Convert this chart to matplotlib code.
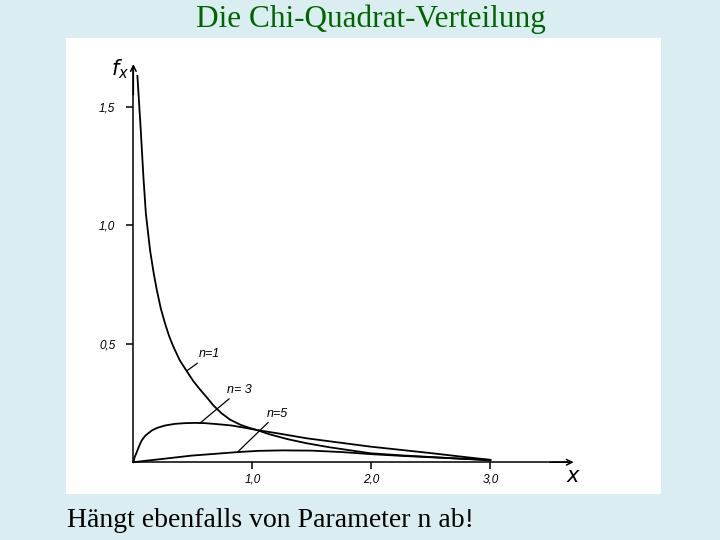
import matplotlib
matplotlib.use("Agg")
import matplotlib.pyplot as plt

plt.rcParams["mathtext.fontset"] = "dejavusans"

# curves
n1_x = [0.034, 0.06, 0.085, 0.105, 0.14, 0.17, 0.197, 0.23, 0.266, 0.30, 0.336, 0.39, 0.448, 0.50,
        0.56, 0.62, 0.672, 0.74, 0.812, 0.90, 0.97, 1.037, 1.15, 1.30, 1.457, 1.65, 1.99, 2.25,
        2.5, 2.75, 3.0]
n1_y = [1.63, 1.42, 1.20, 1.05, 0.896, 0.80, 0.727, 0.65, 0.586, 0.533, 0.488, 0.43, 0.385, 0.345,
        0.307, 0.272, 0.24, 0.207, 0.18, 0.158, 0.146, 0.136, 0.117, 0.097, 0.080, 0.063, 0.038, 0.029,
        0.022, 0.015, 0.008]

n3_x = [0.0, 0.01, 0.028, 0.05, 0.07, 0.1, 0.155, 0.2, 0.266, 0.35, 0.434, 0.52, 0.6, 0.7, 0.826,
        0.93, 1.037, 1.2, 1.457, 1.7, 1.99, 2.25, 2.51, 2.75, 3.0]
n3_y = [0.0, 0.02, 0.042, 0.07, 0.092, 0.112, 0.134, 0.145, 0.155, 0.162, 0.165, 0.166, 0.165, 0.161,
        0.155, 0.146, 0.136, 0.123, 0.101, 0.085, 0.066, 0.052, 0.038, 0.024, 0.010]

n5_x = [0.0, 0.1, 0.21, 0.35, 0.49, 0.7, 0.88, 1.05, 1.25, 1.5, 1.75, 2.0, 2.25, 2.5, 2.75, 3.0]
n5_y = [0.0, 0.006, 0.012, 0.02, 0.028, 0.036, 0.043, 0.048, 0.05, 0.049, 0.043, 0.034, 0.027,
        0.021, 0.015, 0.010]

curve_labels = ["n=1", "n= 3", "n=5"]
x_ticks = [1.0, 2.0, 3.0]
x_ticklabels = ["1,0", "2,0", "3,0"]
y_ticks = [0.5, 1.0, 1.5]
y_ticklabels = ["0,5", "1,0", "1,5"]

title = "Die Chi-Quadrat-Verteilung"
caption = "Hängt ebenfalls von Parameter n ab!"

fig = plt.figure(figsize=(7.2, 5.4), dpi=100)
fig.patch.set_facecolor("#daedf0")

fig.text(0.515, 0.964, title, ha="center", va="center", family="Liberation Serif",
         fontsize=22.5, color="#006400")
fig.text(0.093, 0.037, caption, ha="left", va="center", family="Liberation Serif",
         fontsize=20, color="black")

# white panel = the axes itself
ax = fig.add_axes([66 / 720, 46 / 540, 595 / 720, 456 / 540])
ax.set_facecolor("white")
ax.set_xlim(-0.566, 4.434)
ax.set_ylim(-0.134, 1.79)

ax.spines["top"].set_visible(False)
ax.spines["right"].set_visible(False)
ax.spines["left"].set_position(("data", 0))
ax.spines["bottom"].set_position(("data", 0))
ax.spines["left"].set_bounds(0, 1.66)
ax.spines["bottom"].set_bounds(0, 3.68)
ax.spines["left"].set_linewidth(1.1)
ax.spines["bottom"].set_linewidth(1.1)

# arrow heads
ax.annotate("", xy=(3.70, 0), xytext=(3.5, 0),
            arrowprops=dict(arrowstyle="->", lw=1.1, color="black", shrinkA=0, shrinkB=0))
ax.annotate("", xy=(0, 1.68), xytext=(0, 1.55),
            arrowprops=dict(arrowstyle="->", lw=1.1, color="black", shrinkA=0, shrinkB=0))

tick_font = dict(family="Liberation Sans", style="italic", size=8.5)
ax.set_xticks(x_ticks)
ax.set_xticklabels(x_ticklabels, fontdict=tick_font)
ax.set_yticks(y_ticks)
ax.set_yticklabels(y_ticklabels, fontdict=tick_font)
ax.tick_params(axis="x", direction="out", length=5, width=1.1, pad=3)
ax.tick_params(axis="y", direction="out", length=5, width=1.1, pad=8)

ax.plot(n1_x, n1_y, color="black", lw=1.3)
ax.plot(n3_x, n3_y, color="black", lw=1.3)
ax.plot(n5_x, n5_y, color="black", lw=1.3)

lead = dict(arrowstyle="-", lw=0.9, color="black", shrinkA=0, shrinkB=0)
lab_font = dict(family="Liberation Sans", style="italic", size=9)
ax.annotate(curve_labels[0], xy=(0.448, 0.385), xytext=(0.55, 0.455), ha="left", va="center",
            arrowprops=lead, **lab_font)
ax.annotate(curve_labels[1], xy=(0.56, 0.165), xytext=(0.79, 0.305), ha="left", va="center",
            arrowprops=lead, **lab_font)
ax.annotate(curve_labels[2], xy=(0.88, 0.045), xytext=(1.12, 0.205), ha="left", va="center",
            arrowprops=lead, **lab_font)

# axis names
ax.text(3.70, -0.058, "$x$", ha="center", va="center", fontsize=15)
ax.text(-0.11, 1.66, "$f_x$", ha="center", va="center", fontsize=15)

fig.savefig("out.png", dpi=100, facecolor=fig.get_facecolor())
